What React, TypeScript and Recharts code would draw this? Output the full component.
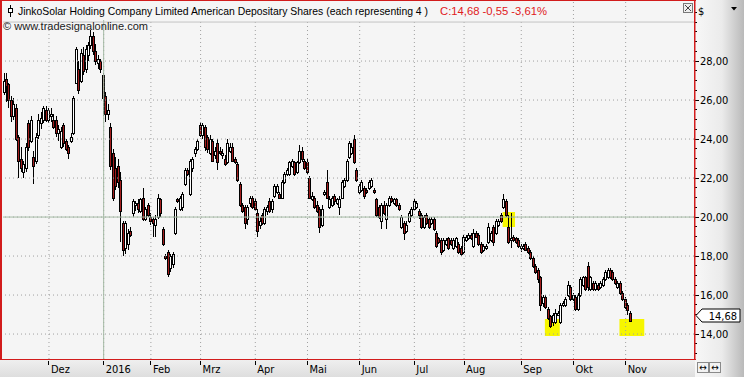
import React from 'react';
import { ComposedChart, Bar, XAxis, YAxis, ReferenceLine, ReferenceArea } from 'recharts';

const W = 744;
const H = 377;

// Daily OHLC, 4 Nov 2015 .. 3 Nov 2016
const opens = [
  26.4, 27.1, 26.8, 26.0, 25.2, 25.6, 24.1, 23.0, 22.3, 22.5, 24.8, 23.9, 23.1, 22.9, 24.2, 24.8, 25.0, 25.5,
  25.0, 25.2, 25.0, 25.0, 24.3, 23.6, 24.7, 23.9, 23.6, 23.9, 24.3, 26.9, 27.6, 27.0, 28.3, 27.6, 28.3, 28.8, 29.3, 28.5, 27.9, 28.0,
  27.3, 26.2, 25.3, 24.6, 23.3, 22.5, 22.6, 21.9, 19.7, 18.4, 18.6, 19.3, 20.2, 20.6, 20.7, 20.3, 21.0, 19.9, 20.6,
  20.0, 19.9, 19.6, 20.0, 20.9, 19.4, 18.0, 18.2, 17.4, 17.6, 19.2, 20.9, 20.4, 20.5, 21.7, 22.4, 21.2, 22.5, 23.3, 23.5,
  24.7, 24.2, 24.6, 24.1, 23.3, 23.9, 23.2, 23.8, 23.4, 23.2, 23.0, 22.8, 23.4, 23.6, 23.0, 22.7, 21.7, 20.6, 20.5, 19.9, 20.7, 21.0,
  20.8, 20.2, 19.6, 20.1, 19.7, 20.3, 20.8, 20.4, 21.1, 21.3, 21.2, 21.0, 21.8, 22.2, 22.2, 22.6, 22.8, 22.3, 22.8, 23.4, 22.9,
  22.8, 22.0, 20.9, 21.0, 20.6, 20.4, 19.6, 21.2, 21.8, 20.5, 20.6, 21.1, 20.7, 20.5, 21.0, 21.6, 21.9, 23.1, 23.3, 24.0, 22.4,
  21.3, 21.4, 21.5, 21.4, 21.5, 21.6, 21.4, 20.9, 20.5, 19.8, 20.6, 19.9, 20.6, 21.0, 20.7, 20.9, 20.6, 19.5, 19.7, 19.3, 19.8, 20.1,
  20.4, 20.5, 20.3, 20.1, 19.5, 20.1, 19.9, 19.7, 19.9, 19.2, 18.9, 18.8, 18.3, 18.6, 18.9, 18.8, 18.4, 18.5, 18.6, 18.4,
  18.2, 18.8, 18.9, 19.1, 18.5, 19.2, 19.1, 18.6, 18.3, 18.4, 18.7, 18.8, 19.5, 19.2, 19.6, 20.1, 20.5, 20.8, 19.5, 18.8, 19.0, 18.9, 18.8,
  18.4, 18.4, 18.6, 18.4, 18.2, 17.9, 17.5, 17.3, 16.9, 15.6, 15.9, 15.3, 14.9, 14.6, 14.6, 15.0, 14.6, 15.5, 15.5, 16.0, 16.4,
  15.8, 15.9, 15.3, 16.0, 16.5, 16.9, 17.5, 16.3, 16.6, 16.3, 16.5, 16.4, 16.5, 16.8, 16.9, 17.3, 17.2, 16.8, 16.4, 16.6, 16.1,
  15.8, 15.5, 15.1,
];
const highs = [
  27.4, 27.4, 26.9, 26.2, 26.1, 25.8, 24.2, 23.6, 22.9, 23.8, 25.0, 25.2, 23.4, 24.3, 25.3, 25.4, 25.7, 25.7,
  25.6, 25.6, 25.3, 25.2, 24.7, 24.6, 24.8, 24.0, 23.7, 24.3, 26.2, 28.7, 28.0, 28.6, 28.7, 28.8, 29.0, 29.6, 29.5, 28.9, 28.3, 28.1,
  27.4, 26.4, 25.8, 24.8, 23.5, 23.1, 23.0, 22.3, 19.8, 19.8, 19.4, 19.5, 20.9, 20.8, 20.9, 21.0, 21.5, 20.5, 20.7,
  20.2, 20.0, 20.1, 21.2, 21.0, 19.5, 18.1, 18.3, 18.1, 18.2, 20.5, 21.0, 21.1, 21.3, 22.5, 22.5, 23.0, 23.1, 23.6, 24.0,
  24.9, 24.8, 24.7, 24.2, 24.2, 24.0, 23.6, 24.0, 23.6, 23.5, 23.2, 24.0, 23.8, 23.8, 23.1, 22.8, 21.8, 20.7, 20.6, 20.6, 21.1, 21.1,
  21.0, 20.4, 20.0, 20.2, 20.5, 20.6, 21.0, 20.9, 21.7, 21.7, 21.3, 21.9, 22.3, 22.5, 22.9, 23.0, 22.9, 22.9, 23.7, 23.6, 23.0,
  23.0, 22.1, 21.3, 21.1, 20.8, 20.5, 20.6, 21.4, 22.4, 21.1, 21.1, 21.2, 21.0, 21.1, 21.9, 22.0, 23.0, 23.9, 23.8, 24.2, 22.5,
  21.7, 21.9, 21.6, 21.5, 21.9, 22.0, 21.5, 21.0, 20.6, 20.7, 20.8, 20.7, 21.1, 21.1, 21.0, 21.0, 20.7, 20.1, 19.8, 19.8, 20.3, 20.5,
  20.9, 20.8, 20.4, 20.2, 20.1, 20.2, 20.0, 20.0, 20.0, 19.3, 19.0, 18.9, 18.9, 18.9, 19.0, 18.9, 18.9, 19.0, 18.7, 18.5,
  19.1, 19.1, 19.2, 19.2, 19.4, 19.3, 19.2, 18.7, 18.6, 18.6, 19.7, 19.3, 19.6, 19.9, 19.9, 20.2, 21.2, 20.9, 20.1, 20.2, 19.1, 19.0, 18.9,
  18.6, 18.6, 18.7, 18.5, 18.3, 18.0, 17.6, 17.4, 17.0, 16.0, 16.0, 15.4, 15.0, 15.1, 15.3, 15.2, 15.6, 15.7, 15.9, 16.7, 16.5,
  16.1, 16.0, 16.1, 16.9, 17.0, 17.0, 17.7, 17.0, 16.7, 16.7, 16.6, 16.7, 16.9, 17.3, 17.4, 17.4, 17.3, 16.9, 16.7, 16.7, 16.2,
  15.9, 15.6, 15.2,
];
const lows = [
  26.25, 25.9, 25.6, 24.9, 25.0, 23.9, 22.0, 22.3, 22.0, 22.3, 23.4, 23.8, 21.7, 22.7, 24.0, 24.5, 24.8, 24.9,
  24.8, 24.9, 24.5, 24.1, 23.9, 23.5, 23.6, 23.4, 23.0, 23.8, 24.2, 26.8, 26.3, 26.9, 27.3, 27.4, 28.0, 28.6, 28.3, 27.8, 27.6, 27.4,
  25.2, 24.9, 25.0, 22.4, 20.8, 21.4, 21.5, 18.7, 18.0, 18.1, 18.3, 19.0, 20.0, 20.3, 20.2, 20.2, 19.8, 19.8, 20.0,
  19.6, 19.0, 19.0, 19.9, 20.0, 18.5, 17.8, 16.9, 17.2, 17.4, 19.1, 20.7, 20.3, 20.3, 21.6, 22.1, 21.1, 22.3, 23.1, 23.4,
  24.1, 24.0, 23.4, 23.3, 23.2, 22.8, 23.0, 22.4, 23.2, 23.0, 22.6, 22.7, 23.3, 22.8, 22.7, 21.8, 20.5, 20.2, 19.4, 19.6, 20.5, 20.4,
  20.3, 19.0, 19.4, 19.6, 19.6, 20.1, 20.2, 20.2, 21.0, 21.2, 20.9, 20.9, 21.7, 22.1, 22.1, 22.5, 22.1, 22.2, 22.7, 22.8, 22.4,
  22.2, 20.9, 20.8, 20.4, 20.2, 19.2, 19.5, 21.1, 20.9, 20.4, 20.5, 20.6, 20.6, 20.1, 20.9, 21.5, 21.8, 23.0, 23.2, 22.7, 21.8,
  21.2, 21.3, 20.9, 21.2, 21.4, 21.5, 21.2, 20.0, 19.9, 19.4, 20.1, 19.4, 20.5, 20.7, 20.6, 20.5, 20.3, 19.4, 18.8, 19.2, 19.7, 20.0,
  20.3, 20.4, 19.9, 19.4, 19.4, 19.6, 19.4, 19.6, 19.3, 18.4, 18.6, 18.05, 18.2, 18.5, 18.3, 18.5, 18.3, 18.4, 18.1, 18.0,
  18.1, 18.7, 18.8, 18.8, 18.4, 18.9, 18.5, 18.1, 18.2, 18.3, 18.6, 18.7, 18.5, 19.1, 19.5, 19.7, 20.4, 20.0, 18.6, 18.4, 18.7, 18.6, 18.4,
  18.2, 18.3, 18.3, 18.1, 17.8, 17.4, 17.1, 16.6, 15.2, 15.4, 15.3, 14.7, 14.3, 14.4, 14.5, 14.9, 14.5, 15.4, 15.4, 15.9, 15.7,
  15.7, 15.2, 15.2, 15.9, 16.4, 16.2, 16.2, 16.2, 16.2, 16.2, 16.2, 16.3, 16.4, 16.7, 16.8, 16.8, 16.7, 16.5, 16.3, 16.0, 15.7,
  15.3, 15.0, 14.6,
];
const closes = [
  27.0, 26.7, 26.0, 25.2, 25.8, 24.0, 22.9, 22.5, 22.7, 23.6, 23.6, 25.0, 22.6, 24.1, 25.0, 25.1, 25.6, 25.0,
  25.5, 25.3, 24.6, 24.3, 24.5, 24.4, 23.8, 23.5, 23.3, 24.1, 26.1, 28.6, 26.5, 28.4, 27.5, 28.6, 28.8, 29.3, 28.5, 28.0, 28.1, 27.6,
  26.1, 25.3, 25.5, 22.6, 21.0, 21.6, 21.8, 20.3, 18.3, 19.7, 19.2, 19.1, 20.8, 20.7, 20.4, 20.9, 19.9, 20.4, 20.1,
  19.8, 19.7, 19.9, 21.0, 20.2, 18.6, 17.9, 17.1, 18.0, 18.1, 20.4, 20.8, 21.0, 21.2, 22.4, 22.2, 22.9, 23.0, 23.5, 23.9,
  24.2, 24.7, 23.6, 23.5, 24.0, 22.9, 23.4, 22.8, 23.3, 23.3, 22.7, 23.8, 23.6, 22.9, 22.8, 21.9, 20.6, 20.3, 19.7, 20.5, 21.0, 20.5,
  20.4, 19.3, 19.8, 19.7, 20.4, 20.5, 20.3, 20.8, 21.6, 21.6, 21.0, 21.8, 22.2, 22.4, 22.8, 22.9, 22.2, 22.8, 23.4, 23.0, 22.5,
  22.3, 21.0, 21.1, 20.5, 20.3, 19.5, 20.4, 21.3, 21.0, 20.9, 21.0, 20.8, 20.9, 20.9, 21.8, 21.9, 22.9, 23.8, 23.6, 22.8, 21.9,
  21.6, 21.8, 21.1, 21.3, 21.8, 21.9, 21.3, 20.1, 20.0, 20.6, 20.2, 20.6, 21.0, 20.8, 20.9, 20.6, 20.4, 20.0, 19.2, 19.6, 20.2, 20.4,
  20.8, 20.7, 20.1, 19.5, 20.0, 19.7, 19.5, 19.9, 19.4, 18.5, 18.7, 18.2, 18.8, 18.8, 18.4, 18.6, 18.8, 18.9, 18.2, 18.1,
  19.0, 19.0, 19.1, 18.9, 19.2, 19.0, 18.6, 18.2, 18.5, 18.5, 19.5, 19.2, 18.7, 19.8, 19.8, 19.8, 20.9, 20.1, 18.7, 18.9, 18.8, 18.7, 18.5,
  18.5, 18.5, 18.3, 18.2, 17.9, 17.5, 17.2, 16.8, 15.5, 15.9, 15.4, 14.8, 14.4, 15.0, 15.1, 15.1, 15.5, 15.6, 15.8, 16.5, 15.8,
  16.0, 15.3, 16.0, 16.8, 16.9, 16.3, 16.4, 16.9, 16.3, 16.6, 16.3, 16.6, 16.8, 17.2, 17.3, 16.9, 16.8, 16.6, 16.6, 16.1, 15.8,
  15.4, 15.23, 14.68,
];

// Month starts (index of first trading day) and their labels
const monthStarts = [18, 40, 59, 79, 101, 122, 143, 165, 185, 208, 229, 250];
const monthLabels = ['Dez', '2016', 'Feb', 'Mrz', 'Apr', 'Mai', 'Jun', 'Jul', 'Aug', 'Sep', 'Okt', 'Nov'];
const yearStart = 40;

const priceLabels = [14, 16, 18, 20, 22, 24, 26, 28];
const axisTicks = [13, 13.5, 14, 14.5, 15, 15.5, 16, 16.5, 17, 17.5, 18, 18.5, 19, 19.5, 20, 20.5, 21, 21.5,
  22, 22.5, 23, 23.5, 24, 24.5, 25, 25.5, 26, 26.5, 27, 27.5, 28, 28.5, 29, 29.5, 30, 30.5];
const highlightLevel = 20;
const headerLevel = 30;

const emptySlots = 25;

// yellow signal squares: candle index range and price range
const signals = [
  { from: 201, to: 205, low: 19.49, high: 20.26 },
  { from: 218, to: 223, low: 13.9, high: 14.77 },
  { from: 248, to: 257, low: 13.9, high: 14.77 },
];

const titleText = 'JinkoSolar Holding Company Limited American Depositary Shares (each representing 4 )';
const quoteText = 'C:14,68 -0,55 -3,61%';
const watermark = '\u00A9 www.tradesignalonline.com';

const rows: any[] = [];
for (let i = 0; i < opens.length + emptySlots; i++) {
  if (i < opens.length) {
    rows.push({ i, o: opens[i], h: highs[i], l: lows[i], c: closes[i], range: [lows[i], highs[i]] });
  } else {
    rows.push({ i, range: null });
  }
}

const AXIS_FONT = '"DejaVu Sans Condensed", "DejaVu Sans", sans-serif';
const TITLE_FONT = '"Liberation Sans", Arial, sans-serif';
const fmt = (v: number) => v.toFixed(2).replace('.', ',');

const Candle = (props: any) => {
  const { x, y, width, height, payload } = props;
  if (!payload || payload.o == null || height == null) return null;
  const { o, h, l, c } = payload;
  const hh = Math.abs(height);
  const top0 = Math.min(y, y + height);
  const ppu = hh / (h - l);
  const cx = Math.floor(x + width / 2) + 0.5;
  const bTop = Math.round(top0 + (h - Math.max(o, c)) * ppu) + 0.5;
  const bBot = Math.round(top0 + (h - Math.min(o, c)) * ppu) + 0.5;
  const up = c >= o;
  return (
    <g>
      <line x1={cx} x2={cx} y1={Math.round(top0)} y2={Math.round(top0 + hh)} stroke="#000" strokeWidth={1} />
      <rect x={cx - 1} y={bTop} width={2} height={Math.max(bBot - bTop, 1)}
        fill={up ? '#ffffff' : '#a21c1c'} stroke="#000" strokeWidth={1} />
    </g>
  );
};

const XTick = (props: any) => {
  const { x, y, payload } = props;
  const k = monthStarts.indexOf(payload.value);
  if (k < 0) return null;
  const tx = Math.floor(x) + 0.5;
  return (
    <g>
      <line x1={tx} x2={tx} y1={y + 2} y2={y + 6} stroke="#000" strokeWidth={1} />
      <text x={x + 2} y={y + 14} fontSize={11} fontFamily={AXIS_FONT} fill="#000">{monthLabels[k]}</text>
    </g>
  );
};

const YTick = (props: any) => {
  const { x, y, payload } = props;
  const v = payload.value;
  const major = priceLabels.indexOf(v) >= 0;
  const ty = Math.floor(y) + 0.5;
  return (
    <g>
      <line x1={x + 1} x2={x + (major ? 5 : 3)} y1={ty} y2={ty} stroke="#000" strokeWidth={1} />
      {major && (
        <text x={x + 6} y={y + 4} fontSize={11} fontFamily={AXIS_FONT} fill="#000">{fmt(v)}</text>
      )}
    </g>
  );
};

const PriceTag = (props: any) => {
  const vb = props.viewBox || {};
  const x = (vb.x || 0) + (vb.width || 0) + 2;
  const y = Math.round((vb.y || 0) - 6) + 0.5;
  const d = `M${x},${y} L${x + 6},${y - 6.5} L${x + 44},${y - 6.5} L${x + 44},${y + 6.5} L${x + 6},${y + 6.5} Z`;
  return (
    <g>
      <path d={d} fill="#ffffff" stroke="#000" strokeWidth={1} />
      <text x={x + 41} y={y + 4} textAnchor="end" fontSize={11} fontFamily={AXIS_FONT} fill="#000">
        {fmt(closes[closes.length - 1])}
      </text>
    </g>
  );
};

export default function App() {
  return (
    <div style={{ position: 'absolute', left: 0, top: 0, width: W, height: H, background: '#f5f5f5', overflow: 'hidden' }}>
      <div style={{ position: 'absolute', left: 695, top: 0, width: 49, height: H,
        background: 'linear-gradient(to right, #f7f7f7 0%, #ebebeb 55%, #b9b9b9 100%)' }} />
      <div style={{ position: 'absolute', left: 0, top: 360, width: 695, height: 17,
        background: 'linear-gradient(#efefef, #dedede)' }} />
      <div style={{ position: 'absolute', left: 0, top: 0 }}>
        <ComposedChart width={W} height={H} data={rows} margin={{ top: 1, right: 0, bottom: 0, left: 3 }} barCategoryGap={0}>
          <XAxis dataKey="i" type="category" ticks={monthStarts} interval={0} tickSize={0} tickMargin={0}
            axisLine={false} tickLine={false} tick={<XTick />} height={18} />
          <YAxis orientation="right" type="number" domain={[12.72, 31.08]} allowDataOverflow ticks={axisTicks}
            interval={0} tickSize={0} tickMargin={0} axisLine={false} tickLine={false} tick={<YTick />} width={50} />
          {priceLabels.map((p) => (
            <ReferenceLine key={'h' + p} y={p} stroke="#a0a0a0" strokeDasharray="1 3" />
          ))}
          {monthStarts.map((m) => (
            <ReferenceLine key={'v' + m} x={m} stroke="#a0a0a0" strokeDasharray="1 3" />
          ))}
          <ReferenceLine y={highlightLevel} stroke="#a4baa4" strokeWidth={1} />
          <ReferenceLine x={yearStart} stroke="#a4baa4" strokeWidth={1} />
          <ReferenceLine y={headerLevel} stroke="#c4c4c4" strokeWidth={1} />
          {signals.map((s, k) => (
            <ReferenceArea key={'s' + k} x1={s.from} x2={s.to} y1={s.low} y2={s.high}
              fill="#f6f600" fillOpacity={1} stroke="none" />
          ))}
          <Bar dataKey="range" shape={(p: any) => <Candle {...p} />} isAnimationActive={false} />
          <ReferenceLine y={closes[closes.length - 1]} stroke="none" label={<PriceTag />} />
        </ComposedChart>
      </div>
      <svg width={W} height={H} style={{ position: 'absolute', left: 0, top: 0, pointerEvents: 'none' }}>
        <rect x={2} y={1} width={550} height={19} fill="#f5f5f5" />
        {/* frame */}
        <rect x={0} y={0} width={2} height={360} fill="#d21c1c" />
        <rect x={0} y={0} width={696} height={1} fill="#d21c1c" />
        <rect x={694} y={0} width={1.5} height={360} fill="#d21c1c" />
        <rect x={0} y={359} width={696} height={1} fill="#d21c1c" />
        {/* title icon */}
        <line x1={10.5} x2={10.5} y1={5} y2={17} stroke="#000" strokeWidth={1} />
        <rect x={8.5} y={8.5} width={4} height={4} fill="#fff" stroke="#000" strokeWidth={1} />
        <text x={18} y={15} fontSize={10.2} fontFamily={TITLE_FONT} fill="#000" textLength={410} lengthAdjust="spacingAndGlyphs">
          {titleText}
        </text>
        <text x={440} y={15} fontSize={10.6} fontFamily={TITLE_FONT} fill="#e0201c" textLength={107} lengthAdjust="spacingAndGlyphs">
          {quoteText}
        </text>
        <text x={3} y={30} fontSize={11} fontFamily={TITLE_FONT} fill="#222" textLength={145} lengthAdjust="spacingAndGlyphs">
          {watermark}
        </text>
        {/* close box */}
        <rect x={683.5} y={3.5} width={9} height={9} fill="#eeeeee" stroke="#7a7a7a" strokeWidth={1} />
        <line x1={685} y1={5} x2={691} y2={11} stroke="#444" strokeWidth={1} />
        <line x1={691} y1={5} x2={685} y2={11} stroke="#444" strokeWidth={1} />
        {/* axis header */}
        <text x={698} y={15} fontSize={11} fontFamily={AXIS_FONT} fill="#000">$</text>
        <path d="M731,7 L737,7 L734,10.5 Z" fill="#000" />
        {/* scroll icons */}
        <rect x={697.5} y={362.5} width={11} height={10} fill="#f2f2f2" stroke="#8a8a8a" strokeWidth={1} />
        <rect x={709.5} y={362.5} width={11} height={10} fill="#f2f2f2" stroke="#8a8a8a" strokeWidth={1} />
        <text x={703} y={371} textAnchor="middle" fontSize={10} fontFamily={AXIS_FONT} fill="#000">{'\u2194'}</text>
        <text x={715} y={371} textAnchor="middle" fontSize={10} fontFamily={AXIS_FONT} fill="#000">{'\u2194'}</text>
      </svg>
    </div>
  );
}
